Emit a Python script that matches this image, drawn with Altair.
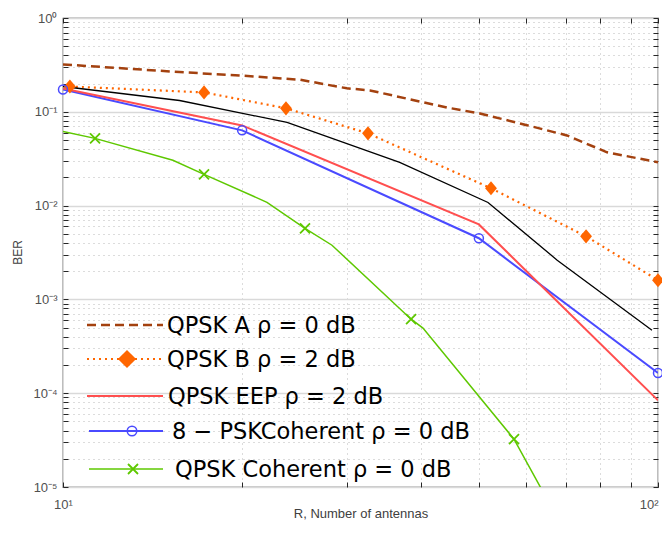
import altair as alt
import pandas as pd

# ---------------- data ----------------
# QPSK A rho = 0 dB (brown, dashed)
qa_x = [10, 15.7, 19.8, 25.0, 30.0, 32.8, 36.4, 44.2, 50.2, 60.2, 70.3, 82.1, 100]
qa_y = [0.320, 0.265, 0.244, 0.220, 0.178, 0.169, 0.146, 0.111, 0.096, 0.072, 0.056, 0.037, 0.029]

# QPSK B rho = 2 dB (orange, dotted, diamonds)
qb_x = [10.27, 17.26, 23.70, 32.55, 52.4, 75.7, 100]
qb_y = [0.186, 0.161, 0.109, 0.0589, 0.0153, 0.0047, 0.0016]

# unlabelled black curve
blk_x = [10, 15.7, 23.8, 36.8, 51.8, 67.7, 97.7]
blk_y = [0.186, 0.132, 0.077, 0.0289, 0.0108, 0.00262, 0.00047]

# QPSK EEP rho = 2 dB (red)
eep_x = [10, 20, 50, 100]
eep_y = [0.1775, 0.0716, 0.0063, 0.000084]

# 8-PSK coherent rho = 0 dB (blue, circles)
psk8_x = [10, 20, 50, 100]
psk8_y = [0.173, 0.0634, 0.00449, 0.000164]

# QPSK coherent rho = 0 dB (green, x markers)
coh_x = [10, 11.32, 15.30, 17.26, 22.02, 25.51, 28.32, 38.46, 40.27, 57.28, 70.0]
coh_y = [0.0618, 0.0521, 0.0304, 0.02155, 0.01084, 0.00573, 0.00378,
         0.000615, 0.000494, 0.0000324, 0.0000032]
coh_marker_idx = [1, 3, 5, 7, 9]

legend_labels = ["QPSK A ρ = 0 dB", "QPSK B ρ = 2 dB", "QPSK EEP ρ = 2 dB",
                 "8 − PSKCoherent ρ = 0 dB", "QPSK Coherent ρ = 0 dB"]

x_major = [10, 100]
x_minor = [20, 30, 40, 50, 60, 70, 80, 90]
x_tick_labels = ["10¹", "10²"]
y_major = [1e-5, 1e-4, 1e-3, 1e-2, 1e-1, 1]
y_tick_labels = ["10⁻⁵", "10⁻⁴", "10⁻³", "10⁻²", "10⁻¹", "10⁰"]
y_minor = [m * d for d in y_major[:-1] for m in range(2, 10)]

# ---------------- styling ----------------
W, H = 595, 469
FONT = "Liberation Sans"
LEG_FONT = "DejaVu Sans"
C_A, C_B, C_EEP, C_PSK, C_COH = "#A3410F", "#FF6600", "#FF4F4F", "#4A4AFF", "#5EC800"
DIAMOND = "M0,-1.2L1,0L0,1.2L-1,0Z"
XMARK = "M-1,-1L1,1M-1,1L1,-1"

xs = alt.Scale(type="log", domain=[10, 100], nice=False)
ys = alt.Scale(type="log", domain=[1e-5, 1], nice=False)


def df(xv, yv):
    return pd.DataFrame({"x": xv, "y": yv})


def lab_expr(vals, labs):
    return "".join(f"datum.value == {v!r} ? '{t}' : " for v, t in zip(vals, labs)) + "''"


def major_test(vals):
    return "indexof([" + ",".join(repr(v) for v in vals) + "], datum.value) >= 0"


grid_common = dict(grid=True, domain=False, ticks=True, tickSize=5, tickColor="#262626",
                   tickWidth=1, offset=-5, labelFont=FONT, labelFontSize=13,
                   labelColor="#505050", titleFont=FONT, titleFontWeight="normal",
                   titleColor="#404040")

x_axis = alt.Axis(values=x_major + x_minor, labelExpr=lab_expr(x_major, x_tick_labels),
                  gridDash={"condition": {"test": major_test(x_major), "value": []}, "value": [1, 4]},
                  gridColor={"condition": {"test": major_test(x_major), "value": "#d9d9d9"}, "value": "#b8b8b8"},
                  labelAlign={"condition": {"test": "datum.value == 100", "value": "right"}, "value": "center"},
                  labelPadding=11, labelFlush=False, title="R, Number of antennas",
                  titleFontSize=13, titleY=31, titleBaseline="middle", **grid_common)
y_axis = alt.Axis(values=y_major + y_minor, labelExpr=lab_expr(y_major, y_tick_labels),
                  gridDash={"condition": {"test": major_test(y_major), "value": []}, "value": [1, 4]},
                  gridColor={"condition": {"test": major_test(y_major), "value": "#d9d9d9"}, "value": "#b8b8b8"},
                  gridWidth={"condition": {"test": major_test(y_major), "value": 1.5}, "value": 1},
                  labelPadding=6, labelFlush=False, title="BER", titleFontSize=12,
                  titleAngle=-90, titleX=-51, titleY=234, titleBaseline="middle", titleAlign="center",
                  **grid_common)
x_axis_top = alt.Axis(orient="top", values=x_major + x_minor, labels=False, grid=False, domain=False,
                      tickSize=5, tickColor="#262626", offset=-5, title=None)
y_axis_right = alt.Axis(orient="right", values=y_major + y_minor, labels=False, grid=False, domain=False,
                        tickSize=5, tickColor="#262626", offset=-5, title=None)


def X(axis=None):
    return alt.X("x:Q", scale=xs, axis=axis)


def Y(axis=None):
    return alt.Y("y:Q", scale=ys, axis=axis)


layers = []
# axis carriers (invisible)
layers.append(alt.Chart(df(blk_x, blk_y)).mark_point(opacity=0).encode(x=X(x_axis), y=Y(y_axis)))
layers.append(alt.Chart(df(blk_x, blk_y)).mark_point(opacity=0).encode(x=X(x_axis_top), y=Y(y_axis_right)))

# lines
layers.append(alt.Chart(df(qa_x, qa_y)).mark_line(color=C_A, strokeWidth=2.5, strokeDash=[9, 5], clip=True)
              .encode(x=X(), y=Y()))
layers.append(alt.Chart(df(qb_x, qb_y)).mark_line(color=C_B, strokeWidth=2.2, strokeDash=[2, 4], clip=True)
              .encode(x=X(), y=Y()))
layers.append(alt.Chart(df(psk8_x, psk8_y)).mark_line(color=C_PSK, strokeWidth=2, clip=True)
              .encode(x=X(), y=Y()))
layers.append(alt.Chart(df(eep_x, eep_y)).mark_line(color=C_EEP, strokeWidth=2, clip=True)
              .encode(x=X(), y=Y()))
layers.append(alt.Chart(df(coh_x, coh_y)).mark_line(color=C_COH, strokeWidth=1.5, clip=True)
              .encode(x=X(), y=Y()))
layers.append(alt.Chart(df(blk_x, blk_y)).mark_line(color="black", strokeWidth=1.3, clip=True)
              .encode(x=X(), y=Y()))

# markers
layers.append(alt.Chart(df(qb_x, qb_y)).mark_point(shape=DIAMOND, filled=True, size=140, color=C_B, opacity=1)
              .encode(x=X(), y=Y()))
layers.append(alt.Chart(df(psk8_x, psk8_y)).mark_point(shape="circle", filled=False, size=81, color=C_PSK,
                                                       strokeWidth=1.5, opacity=1)
              .encode(x=X(), y=Y()))
layers.append(alt.Chart(df([coh_x[i] for i in coh_marker_idx], [coh_y[i] for i in coh_marker_idx]))
              .mark_point(shape=XMARK, filled=False, size=100, color=C_COH, strokeWidth=1.8, opacity=1)
              .encode(x=X(), y=Y()))

# legend (inside plot, no box)
leg_rows = [307, 341, 378, 413, 451]
leg_x0 = [24, 24, 24, 26, 26]
leg_x1 = 100
leg_text_x = [104, 104, 105, 109, 112]
leg_style = [
    dict(color=C_A, strokeWidth=2.5, strokeDash=[9, 5]),
    dict(color=C_B, strokeWidth=2.2, strokeDash=[2, 4]),
    dict(color=C_EEP, strokeWidth=2),
    dict(color=C_PSK, strokeWidth=2),
    dict(color=C_COH, strokeWidth=1.5),
]
leg_marker = [
    None,
    dict(shape="diamond", filled=True, size=330, color=C_B, opacity=1),
    None,
    dict(shape="circle", filled=False, size=90, color=C_PSK, strokeWidth=1.5, opacity=1),
    dict(shape=XMARK, filled=False, size=100, color=C_COH, strokeWidth=1.8, opacity=1),
]
leg_marker_x = [None, 64, None, 69, 70]

for i, lab in enumerate(legend_labels):
    ldf = pd.DataFrame({"label": [lab]})
    yy = leg_rows[i]
    layers.append(alt.Chart(ldf).mark_rule(**leg_style[i])
                  .encode(x=alt.value(leg_x0[i]), x2=alt.value(leg_x1), y=alt.value(yy)))
    if leg_marker[i] is not None:
        layers.append(alt.Chart(ldf).mark_point(**leg_marker[i])
                      .encode(x=alt.value(leg_marker_x[i]), y=alt.value(yy)))
    layers.append(alt.Chart(ldf).mark_text(align="left", baseline="middle", font=LEG_FONT,
                                           fontSize=22.5, color="black")
                  .encode(x=alt.value(leg_text_x[i]), y=alt.value(yy + 1), text="label:N"))

chart = (alt.layer(*layers)
         .resolve_axis(x="independent", y="independent")
         .properties(width=W, height=H,
                     padding={"left": 55, "top": 10, "right": 4, "bottom": 41},
                     autosize=alt.AutoSizeParams(type="none"),
                     background="white")
         .configure_view(stroke="#262626", strokeWidth=1.2))

chart.save("out.html", embed_options={"renderer": "svg", "actions": False})
